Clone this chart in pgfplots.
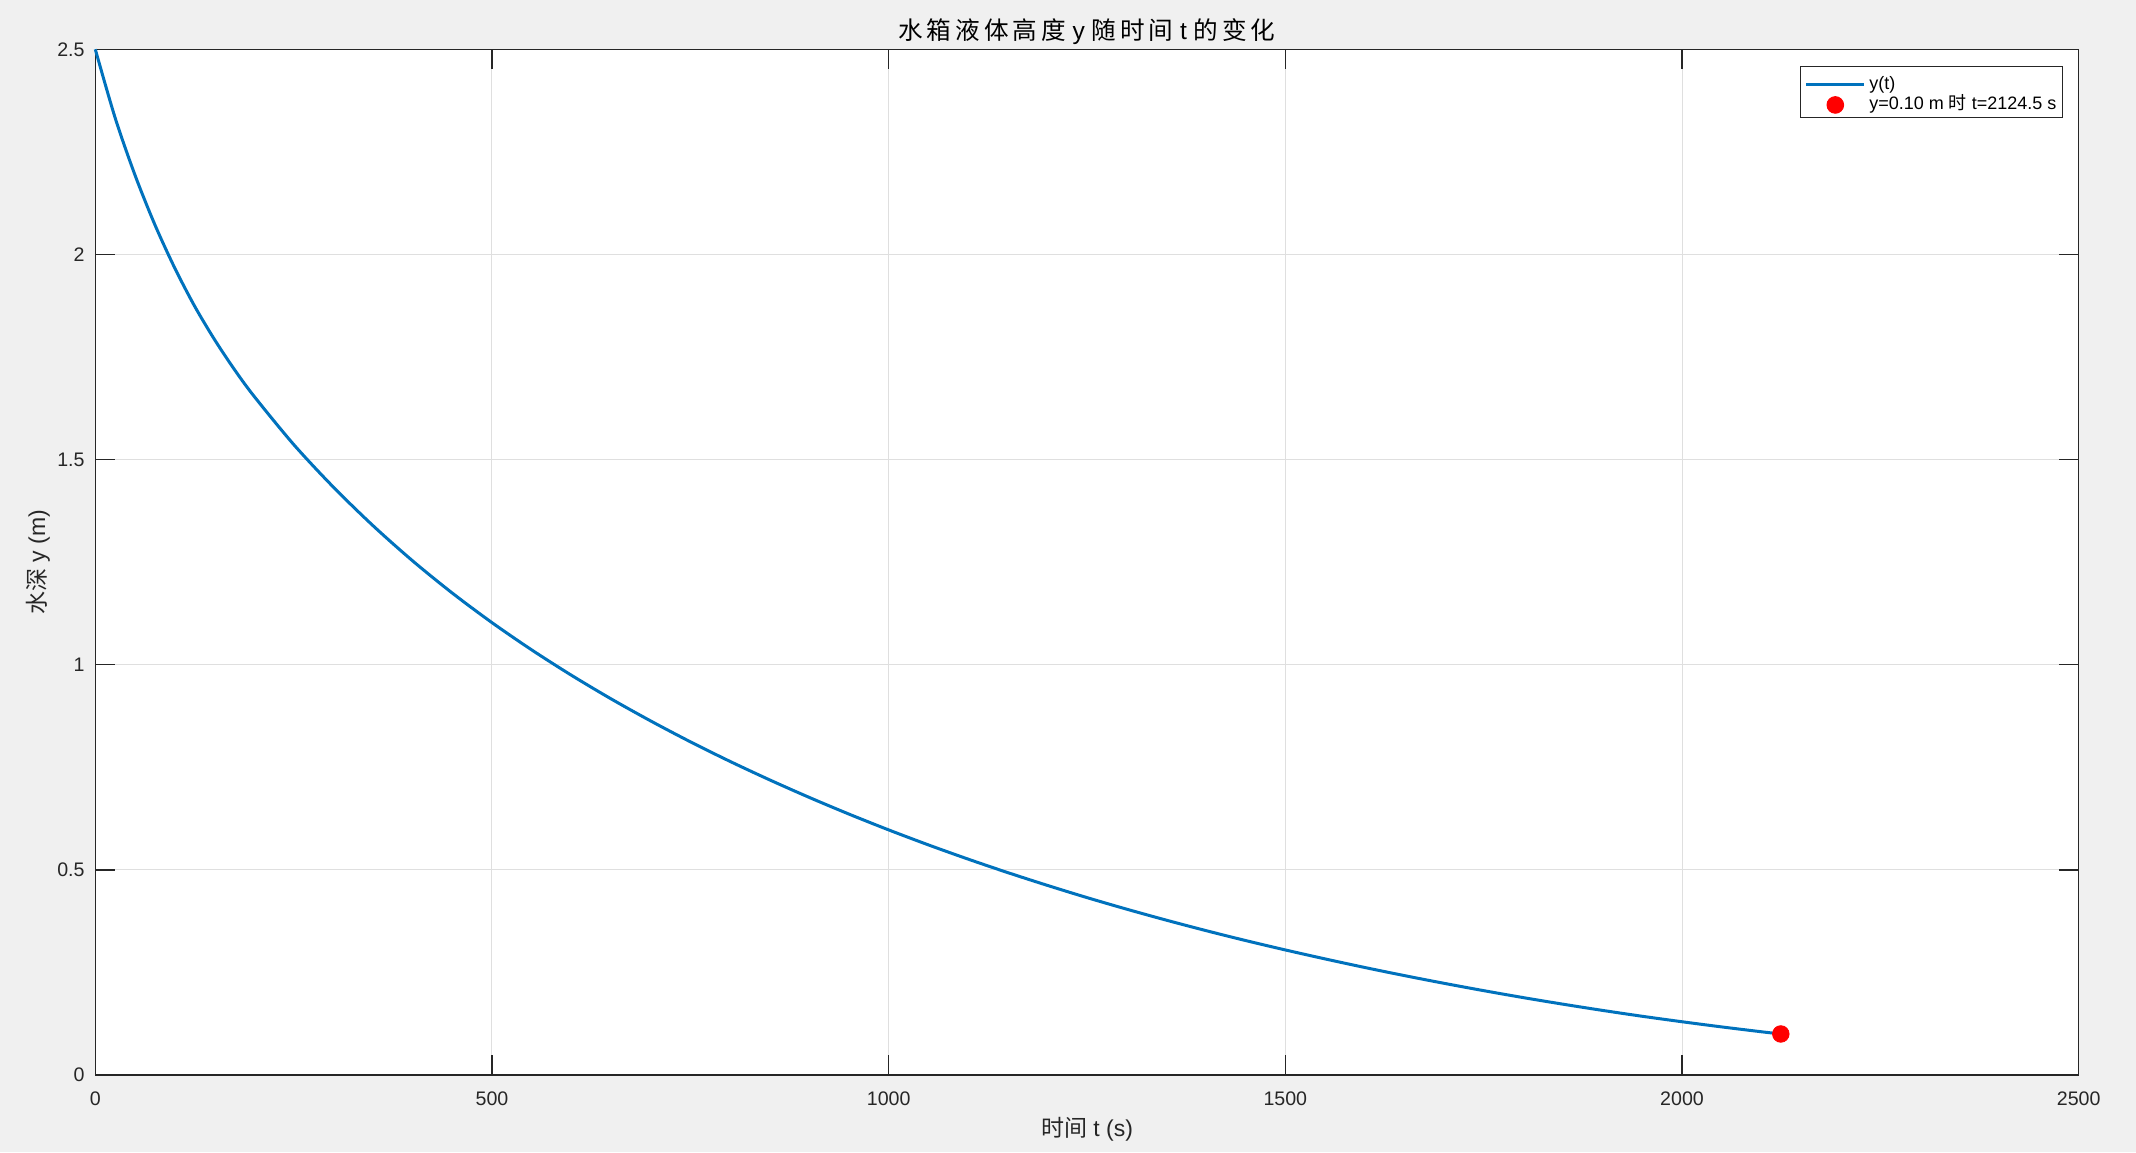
\documentclass[border=0pt]{standalone}
\usepackage{fontspec}
\setmainfont{Liberation Sans}
\newfontfamily\cjk{Noto Sans CJK SC}
\newfontfamily\cjkwide[LetterSpace=16]{Noto Sans CJK SC}
\usepackage{pgfplots}
\pgfplotsset{compat=1.18}
\definecolor{figbg}{HTML}{F0F0F0}
\definecolor{axcol}{HTML}{262626}
\definecolor{gridcol}{HTML}{DFDFDF}
\definecolor{mblue}{HTML}{0072BD}

\begin{document}
\begin{tikzpicture}
% figure background (1 px of the reference = 0.5pt)
\fill[figbg] (-47.65pt,-38.5pt) rectangle (1020.35pt,537.5pt);
\begin{axis}[
    at={(0,0)}, anchor=south west,
    scale only axis,
    width=991.7pt, height=512.85pt,
    xmin=0, xmax=2500, ymin=0, ymax=2.5,
    xtick={0,500,1000,1500,2000,2500},
    ytick={0,0.5,1,1.5,2,2.5},
    clip=false,
    axis background/.style={fill=white},
    axis line style={color=axcol, line width=0.75pt},
    every tick/.style={color=axcol, line width=0.75pt},
    major tick length=9.9pt,
    tick align=inside,
    grid=major,
    major grid style={color=gridcol, line width=0.5pt},
    /pgf/number format/assume math mode=true,
    /pgf/number format/1000 sep={},
    tick label style={font=\fontsize{9.8}{11}\selectfont, text=axcol},
    xticklabel style={anchor=base, yshift=-15pt, inner sep=0pt},
    yticklabel style={anchor=east, xshift=-5.15pt, inner sep=0pt},
    title={{\cjkwide 水箱液体高度} y {\cjkwide 随时间} t {\cjkwide 的变化}},
    every axis title/.style={at={(axis description cs:0.5,1)}, anchor=base,
        yshift=5pt, inner sep=0pt, font=\fontsize{12.3}{14}\selectfont, text=black},
    xlabel={{\cjk 时间} t (s)},
    every axis x label/.style={at={(axis description cs:0.5,0)}, anchor=base,
        yshift=-30.5pt, inner sep=0pt, font=\fontsize{11.5}{13}\selectfont, text=axcol},
    ylabel={{\cjk 水深} y (m)},
    every axis y label/.style={at={(axis description cs:-0.02536,0.5)}, anchor=base,
        rotate=90, inner sep=0pt, font=\fontsize{11.5}{13}\selectfont, text=axcol},
    legend style={
        at={(axis description cs:1,1)}, anchor=north east,
        xshift=-8pt, yshift=-8.2pt,
        draw=axcol, line width=0.5pt, fill=white,
        font=\fontsize{9}{10}\selectfont, text=black,
        inner xsep=2.9pt, inner ysep=2.6pt,
        column sep=2.5pt, row sep=0pt,
        nodes={inner sep=0pt, text height=8.95pt, text depth=1.2pt},
    },
    legend cell align=left,
]
\addplot[color=mblue, line width=1.5pt, smooth,
    legend image code/.code={
        \path[draw=none, fill=none] (0pt,0pt) -- (29pt,0pt);
        \draw[overlay, mblue, line width=1.5pt] (0pt,-1.55pt) -- (29pt,-1.55pt);}]
coordinates {
    (0,2.5000) (25,2.3330) (50,2.1936) (75,2.0729) (100,1.9675)
    (125,1.8746) (150,1.7934) (175,1.7205) (200,1.6546) (250,1.5369)
    (300,1.4331) (350,1.3390)
    (400,1.2531) (450,1.1746) (500,1.1026) (550,1.0362) (600,0.9745)
    (650,0.9169) (700,0.8630) (750,0.8122) (800,0.7644) (850,0.7193)
    (900,0.6765) (950,0.6359) (1000,0.5974) (1050,0.5609) (1100,0.5263)
    (1150,0.4934) (1200,0.4622) (1250,0.4324) (1300,0.4042) (1350,0.3774)
    (1400,0.3519) (1450,0.3277) (1500,0.3048) (1550,0.2830) (1600,0.2621)
    (1650,0.2423) (1700,0.2235) (1750,0.2056) (1800,0.1886) (1850,0.1726)
    (1900,0.1574) (1950,0.1431) (2000,0.1298) (2050,0.1172) (2100,0.1054)
    (2124.5,0.1000)
};
\addlegendentry{y(t)}
\addplot[only marks, mark=*, mark size=4.15pt, color=red,
    legend image code/.code={
        \path[draw=none, fill=none] (0pt,0pt) -- (29pt,0pt);
        \fill[overlay, red] (14.5pt,-1.55pt) circle (4.15pt);}]
coordinates {(2124.5,0.1)};
\addlegendentry{y=0.10 m {\cjk 时} t=2124.5 s}
\end{axis}
\pgfresetboundingbox
\path[use as bounding box] (-47.65pt,-38.5pt) rectangle (1020.35pt,537.5pt);
\end{tikzpicture}
\end{document}
